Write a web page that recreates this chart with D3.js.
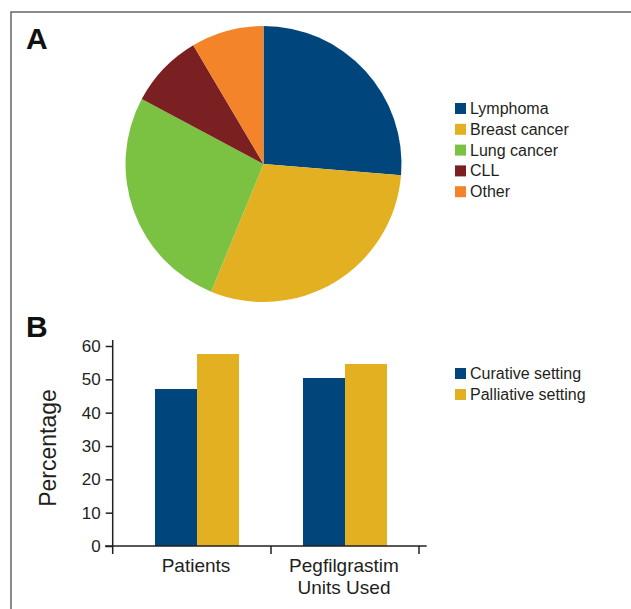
<!DOCTYPE html>
<html>
<head>
<meta charset="utf-8">
<script src="https://cdn.jsdelivr.net/npm/d3@7"></script>
<style>
  body { margin: 0; background: #fff; }
  text { font-family: "Liberation Sans", Arial, sans-serif; fill: #231f20; }
</style>
</head>
<body>
<div id="chart"></div>
<script>
// panel A: cancer types
const cancerTypes = ["Lymphoma", "Breast cancer", "Lung cancer", "CLL", "Other"];
const cancerShares = [26.3, 29.9, 26.6, 8.7, 8.5];
const cancerColors = ["#00457c", "#e3b021", "#7cc242", "#7a1f22", "#f3842a"];

// panel B: curative vs palliative
const groups = ["Patients", "Pegfilgrastim\nUnits Used"];
const settings = ["Curative setting", "Palliative setting"];
const curative = [47.1, 50.4];
const palliative = [57.6, 54.6];
const settingColors = ["#00457c", "#e3b021"];
const yTicks = [0, 10, 20, 30, 40, 50, 60];

const width = 631, height = 609;
const svg = d3.select("#chart").append("svg")
    .attr("width", width)
    .attr("height", height);

// frame (open on right and bottom)
svg.append("path")
    .attr("d", `M11,${height + 5} L11,12 L${width + 5},12`)
    .attr("fill", "none")
    .attr("stroke", "#666")
    .attr("stroke-width", 1.5);

// panel letters
svg.append("text").attr("x", 26).attr("y", 49)
    .style("font-size", "30px").style("font-weight", "bold").style("fill", "#111")
    .text("A");
svg.append("text").attr("x", 26).attr("y", 337)
    .style("font-size", "30px").style("font-weight", "bold").style("fill", "#111")
    .text("B");

// ---- pie ----
const pieData = cancerTypes.map((c, i) => ({ label: c, value: cancerShares[i], color: cancerColors[i] }));
const pie = d3.pie().value(d => d.value).sort(null);
const arc = d3.arc().innerRadius(0).outerRadius(138);

const pieG = svg.append("g").attr("transform", "translate(263.5,164)");
pieG.selectAll("path")
    .data(pie(pieData))
    .enter()
    .append("path")
    .attr("d", arc)
    .attr("fill", d => d.data.color);

const legA = svg.append("g").attr("transform", "translate(455,103)");
const legAItems = legA.selectAll("g")
    .data(pieData)
    .enter()
    .append("g")
    .attr("transform", (d, i) => `translate(0,${i * 20.8})`);
legAItems.append("rect")
    .attr("width", 11).attr("height", 11)
    .attr("fill", d => d.color);
legAItems.append("text")
    .attr("x", 15).attr("y", 11)
    .style("font-size", "16px")
    .text(d => d.label);

// ---- bars ----
const y = d3.scaleLinear().domain([0, 60]).range([546, 346]);
const x = d3.scaleBand().domain(groups).range([123, 419])
    .paddingInner(0.4324).paddingOuter(0.2162);
const xs = d3.scaleBand().domain(settings).range([0, x.bandwidth()]);
const axisX = 112.7;

const barData = groups.map((g, i) => ({ group: g, values: [curative[i], palliative[i]] }));

const groupsG = svg.append("g").selectAll("g")
    .data(barData)
    .enter()
    .append("g")
    .attr("transform", d => `translate(${x(d.group)},0)`);
groupsG.selectAll("rect")
    .data(d => d.values.map((v, j) => ({ setting: settings[j], value: v, color: settingColors[j] })))
    .enter()
    .append("rect")
    .attr("x", d => xs(d.setting))
    .attr("width", xs.bandwidth())
    .attr("y", d => y(d.value))
    .attr("height", d => y(0) - y(d.value))
    .attr("fill", d => d.color);

// y axis
const yAxis = svg.append("g").attr("transform", `translate(${axisX},0)`)
    .call(d3.axisLeft(y).tickValues(yTicks).tickSize(7).tickPadding(5).tickSizeOuter(0));
yAxis.select(".domain").attr("d", `M0,${y(0)}V340`).attr("stroke", "#231f20").attr("stroke-width", 1.5);
yAxis.selectAll(".tick line").attr("stroke", "#231f20").attr("stroke-width", 1.5);
yAxis.selectAll(".tick text")
    .style("font-size", "17px").style("font-family", "'Liberation Sans', Arial, sans-serif")
    .attr("fill", "#231f20");

// x axis: line with ticks at category boundaries
const xTickPos = [axisX].concat(groups.map(g => x(g) + x.bandwidth() + x.step() * x.paddingInner() / 2));
svg.append("line")
    .attr("x1", 105).attr("x2", 426.7)
    .attr("y1", y(0)).attr("y2", y(0))
    .attr("stroke", "#231f20").attr("stroke-width", 1.5);
svg.selectAll(".xtick")
    .data(xTickPos)
    .enter()
    .append("line")
    .attr("class", "xtick")
    .attr("x1", d => d).attr("x2", d => d)
    .attr("y1", y(0)).attr("y2", y(0) + 8)
    .attr("stroke", "#231f20").attr("stroke-width", 1.5);

const xLabels = svg.selectAll(".xlabel")
    .data(groups)
    .enter()
    .append("text")
    .attr("class", "xlabel")
    .attr("text-anchor", "middle")
    .attr("transform", d => `translate(${x(d) + x.bandwidth() / 2 - 1},572)`)
    .style("font-size", "19px");
xLabels.selectAll("tspan")
    .data(d => d.split("\n"))
    .enter()
    .append("tspan")
    .attr("x", 0)
    .attr("dy", (d, i) => i === 0 ? 0 : 22)
    .text(d => d);

svg.append("text")
    .attr("transform", "translate(56,448) rotate(-90)")
    .attr("text-anchor", "middle")
    .style("font-size", "23px")
    .text("Percentage");

const legB = svg.append("g").attr("transform", "translate(455,368)");
const legBItems = legB.selectAll("g")
    .data(settings)
    .enter()
    .append("g")
    .attr("transform", (d, i) => `translate(0,${i * 21})`);
legBItems.append("rect")
    .attr("width", 11).attr("height", 11)
    .attr("fill", (d, i) => settingColors[i]);
legBItems.append("text")
    .attr("x", 15).attr("y", 11)
    .style("font-size", "16px")
    .text(d => d);
</script>
</body>
</html>
